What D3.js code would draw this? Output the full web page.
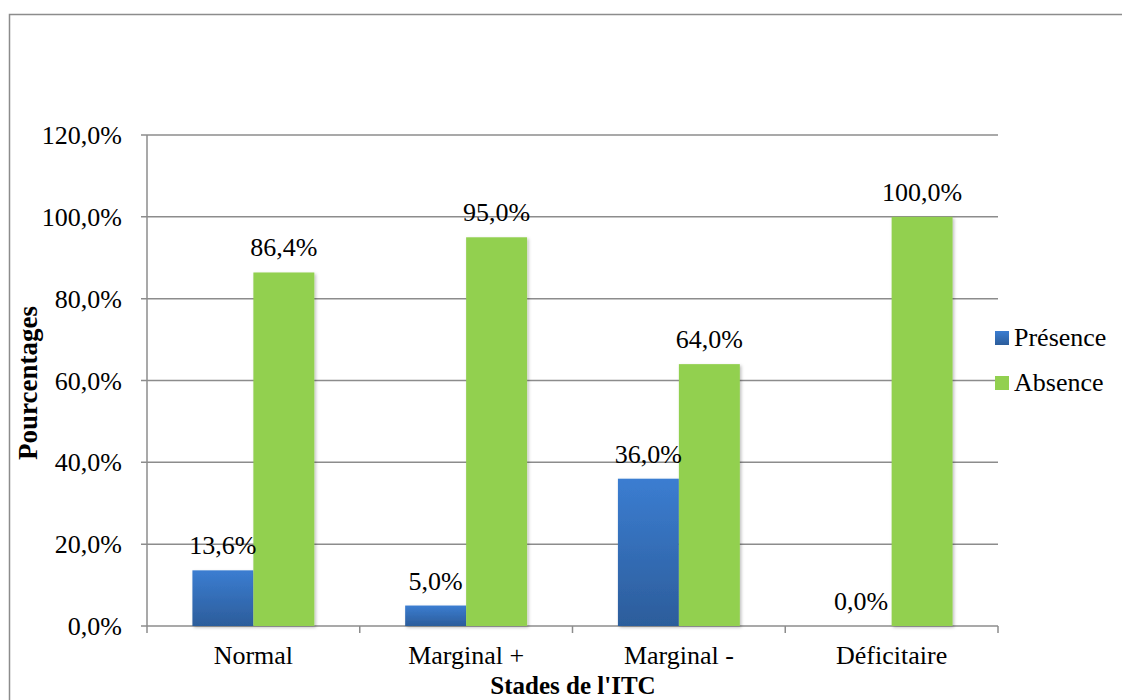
<!DOCTYPE html>
<head>
    <meta charset="utf-8">
    <style>
        body { margin: 0; padding: 0; background: #fff; }
        svg text { font-family: "Liberation Serif", "Times New Roman", serif; fill: #000; }
    </style>
    <script src="https://d3js.org/d3.v7.min.js"></script>
</head>
<body>
    <svg width="1122" height="700"></svg>
    <script>
        // data
        var categories = ["Normal", "Marginal +", "Marginal -", "Déficitaire"];
        var seriesNames = ["Présence", "Absence"];
        var presence = [13.6, 5.0, 36.0, 0.0];
        var absence = [86.4, 95.0, 64.0, 100.0];
        var yTicks = [0, 20, 40, 60, 80, 100, 120];

        var svg = d3.select("svg");
        var margin = { left: 147, right: 998, top: 135, bottom: 626 };
        var fs = "26px";

        // gradients + shadow
        var defs = svg.append("defs");
        var gb = defs.append("linearGradient").attr("id", "blueGrad")
            .attr("x1", 0).attr("y1", 0).attr("x2", 0).attr("y2", 1);
        gb.append("stop").attr("offset", "0%").attr("stop-color", "#3b7dd1");
        gb.append("stop").attr("offset", "100%").attr("stop-color", "#2c5d9b");
        var shadow = defs.append("filter").attr("id", "shadow")
            .attr("x", "-10%").attr("y", "-10%").attr("width", "130%").attr("height", "130%");
        shadow.append("feDropShadow").attr("dx", 1.5).attr("dy", 1.5)
            .attr("stdDeviation", 1.5).attr("flood-color", "#000").attr("flood-opacity", 0.25);

        var colors = ["url(#blueGrad)", "#92d050"];

        // frame
        svg.append("rect")
            .attr("x", 9.5).attr("y", 14.5)
            .attr("width", 1130).attr("height", 700)
            .attr("fill", "none").attr("stroke", "#8c8c8c").attr("stroke-width", 1.5);

        var x = d3.scaleBand().domain(categories).range([margin.left, margin.right]);
        var xSub = d3.scaleBand().domain(seriesNames)
            .range([0, x.bandwidth()]).paddingInner(0).paddingOuter(0.745);
        var y = d3.scaleLinear().domain([0, 120]).range([margin.bottom, margin.top]);

        var fmt = function (v) { return v.toFixed(1).replace(".", ",") + "%"; };

        // gridlines
        svg.append("g").selectAll("line").data(yTicks).enter().append("line")
            .attr("x1", margin.left - 6).attr("x2", margin.right)
            .attr("y1", function (d) { return y(d); })
            .attr("y2", function (d) { return y(d); })
            .attr("stroke", "#8c8c8c").attr("stroke-width", 1.5);

        // y axis line
        svg.append("line")
            .attr("x1", margin.left).attr("x2", margin.left)
            .attr("y1", margin.top).attr("y2", margin.bottom)
            .attr("stroke", "#8c8c8c").attr("stroke-width", 1.5);

        // x category ticks
        var bounds = categories.map(function (c) { return x(c); }).concat([margin.right]);
        svg.append("g").selectAll("line").data(bounds).enter().append("line")
            .attr("x1", function (d) { return d; }).attr("x2", function (d) { return d; })
            .attr("y1", margin.bottom).attr("y2", margin.bottom + 7)
            .attr("stroke", "#8c8c8c").attr("stroke-width", 1.5);

        // y tick labels
        svg.append("g").selectAll("text").data(yTicks).enter().append("text")
            .attr("x", 122)
            .attr("y", function (d) { return y(d) + 9; })
            .attr("text-anchor", "end")
            .attr("font-size", fs)
            .text(fmt);

        // bars
        var rows = categories.map(function (c, i) {
            return [
                { cat: c, s: seriesNames[0], v: presence[i], i: 0 },
                { cat: c, s: seriesNames[1], v: absence[i], i: 1 }
            ];
        });
        var groups = svg.append("g").selectAll("g").data(rows).enter().append("g")
            .attr("transform", function (d) { return "translate(" + x(d[0].cat) + ",0)"; });
        groups.selectAll("rect").data(function (d) { return d; }).enter().append("rect")
            .attr("x", function (d) { return xSub(d.s); })
            .attr("y", function (d) { return y(d.v); })
            .attr("width", xSub.bandwidth())
            .attr("height", function (d) { return y(0) - y(d.v); })
            .attr("fill", function (d) { return colors[d.i]; })
            .attr("filter", "url(#shadow)");
        groups.selectAll("text").data(function (d) { return d; }).enter().append("text")
            .attr("x", function (d) { return xSub(d.s) + xSub.bandwidth() / 2; })
            .attr("y", function (d) { return y(d.v) - 16; })
            .attr("text-anchor", "middle")
            .attr("font-size", fs)
            .text(function (d) { return fmt(d.v); });

        // category labels
        svg.append("g").selectAll("text").data(categories).enter().append("text")
            .attr("x", function (d) { return x(d) + x.bandwidth() / 2; })
            .attr("y", 664)
            .attr("text-anchor", "middle")
            .attr("font-size", fs)
            .text(function (d) { return d; });

        // axis titles
        svg.append("text")
            .attr("x", 573).attr("y", 694)
            .attr("text-anchor", "middle")
            .attr("font-size", "25px").attr("font-weight", "bold")
            .text("Stades de l'ITC");
        svg.append("text")
            .attr("transform", "translate(37,383) rotate(-90)")
            .attr("text-anchor", "middle")
            .attr("font-size", "27px").attr("font-weight", "bold")
            .text("Pourcentages");

        // legend
        var legend = svg.append("g").selectAll("g").data(seriesNames).enter().append("g")
            .attr("transform", function (d, i) { return "translate(995," + (331 + i * 45) + ")"; });
        legend.append("rect").attr("width", 14).attr("height", 14)
            .attr("fill", function (d, i) { return colors[i]; });
        legend.append("text").attr("x", 19).attr("y", 15)
            .attr("font-size", fs)
            .text(function (d) { return d; });
    </script>
</body>
</html>
